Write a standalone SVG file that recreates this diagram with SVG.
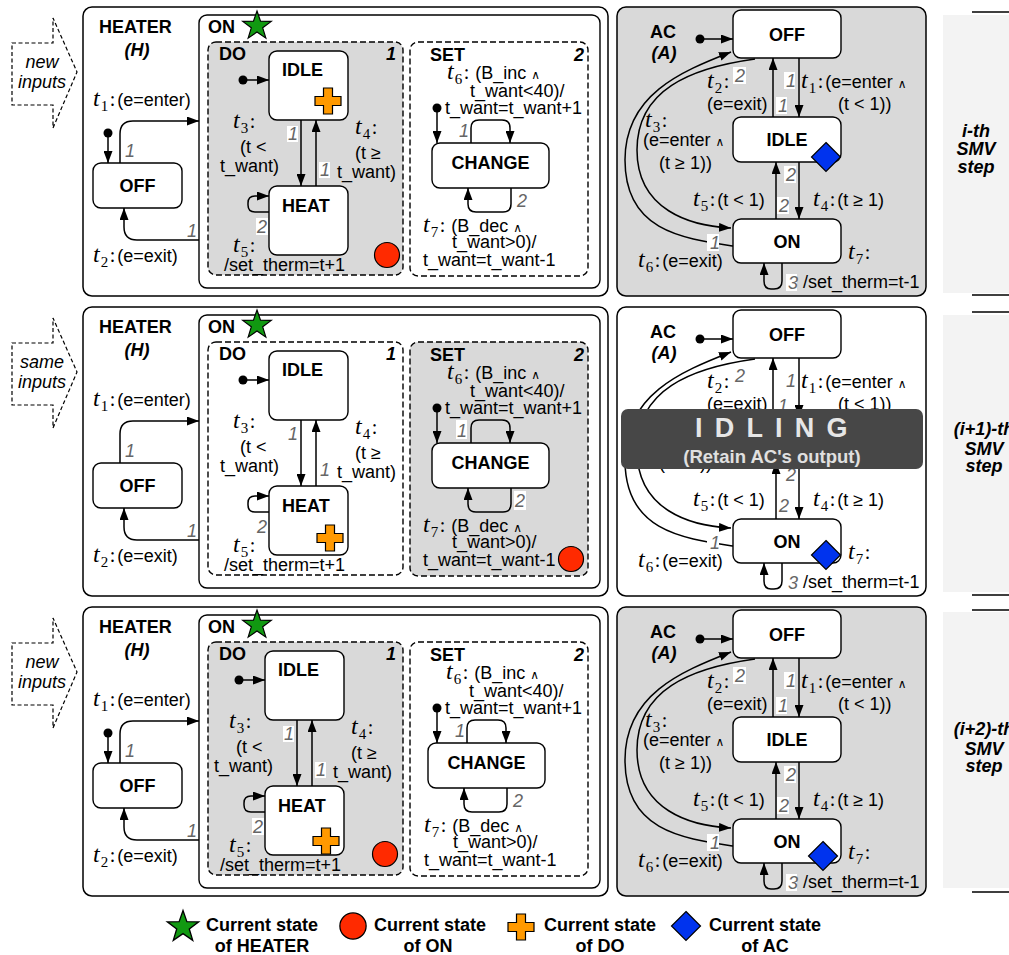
<svg xmlns="http://www.w3.org/2000/svg" width="1009" height="955" viewBox="0 0 1009 955">
<defs>
<style>
.panel{fill:#fff;stroke:#000;stroke-width:1.5}
.node{fill:#fff;stroke:#000;stroke-width:1.4}
.reg{stroke:#000;stroke-width:1.4;stroke-dasharray:6,3}
.gray{fill:#d9d9d9}
.white{fill:#fff}
.e{fill:none;stroke:#000;stroke-width:1.5;marker-end:url(#ah)}
.dot{fill:#000}
.pb{fill:#fff}
.nb{font-family:"Liberation Sans",Arial,sans-serif;font-weight:bold;font-size:18px}
.nbi{font-family:"Liberation Sans",Arial,sans-serif;font-weight:bold;font-style:italic;font-size:18px}
.s{font-family:"Liberation Sans",Arial,sans-serif;font-size:18px}
.m{font-family:"Liberation Serif","Times New Roman",serif;font-style:italic;font-size:24px}
.sb{font-family:"Liberation Serif","Times New Roman",serif;font-size:15px}
.c{font-family:"Liberation Serif","Times New Roman",serif;font-size:20px}
.w{font-family:"DejaVu Sans",sans-serif;font-size:12px}
.p{font-family:"Liberation Sans",Arial,sans-serif;font-style:italic;font-size:18px;fill:#666}
.it{font-family:"Liberation Sans",Arial,sans-serif;font-style:italic;font-size:18px;text-anchor:middle}
.rl{font-family:"Liberation Sans",Arial,sans-serif;font-weight:bold;font-style:italic;font-size:18px;text-anchor:middle}
.lg{font-family:"Liberation Sans",Arial,sans-serif;font-weight:bold;font-size:18px;text-anchor:middle}
.inar{fill:#fff;stroke:#000;stroke-width:1.2;stroke-dasharray:4,2.5}
.side{fill:#f3f3f3}
.rule{stroke:#000;stroke-width:1.5}
</style>
<marker id="ah" viewBox="0 0 12 9" refX="12" refY="4.5" markerWidth="12" markerHeight="9" markerUnits="userSpaceOnUse" orient="auto"><path d="M0,0 L12,4.5 L0,9 z" fill="#000"/></marker>
<polygon id="star" points="0,-15 3.53,-4.85 14.27,-4.64 5.71,1.85 8.82,12.14 0,6 -8.82,12.14 -5.71,1.85 -14.27,-4.64 -3.53,-4.85" fill="#119911" stroke="#000" stroke-width="1.2"/>
<polygon id="cross" points="-4.5,-13 4.5,-13 4.5,-4.5 13,-4.5 13,4.5 4.5,4.5 4.5,13 -4.5,13 -4.5,4.5 -13,4.5 -13,-4.5 -4.5,-4.5" fill="#ff9900" stroke="#000" stroke-width="1.2"/>
<circle id="redc" r="12.5" fill="#ff2a00" stroke="#000" stroke-width="1.2"/>
<polygon id="diam" points="0,-14.5 14.5,0 0,14.5 -14.5,0" fill="#0033ee" stroke="#000" stroke-width="1.2"/>
</defs>
<rect width="1009" height="955" fill="#fff"/>

<!-- ROW 1 -->
<g id="row1">
<g id="inputs-r1"><polygon class="inar" points="12,43 53,43 53,18 77,72 53,128 53,105 12,105"/><text class="it" x="42" y="68">new</text><text class="it" x="42" y="88">inputs</text></g>
<g id="heater-r1"><rect class="panel" x="83" y="7" width="525" height="289" rx="9"/><text class="nb" x="99" y="33">HEATER</text><text class="nbi" x="137" y="56" text-anchor="middle">(H)</text></g>
<g id="on-r1"><rect class="node" x="199" y="15" width="401" height="273" rx="8"/><text class="nb" x="208" y="33">ON</text></g>
<g id="do-r1"><rect class="reg gray" x="208" y="42" width="195" height="233" rx="8"/><text class="nb" x="219" y="60">DO</text><text class="nbi" x="396" y="60" text-anchor="end">1</text></g>
<g id="set-r1"><rect class="reg white" x="410" y="42" width="178" height="234" rx="8"/><text class="nb" x="430" y="61">SET</text><text class="nbi" x="584" y="61" text-anchor="end">2</text></g>
<g id="h-off-r1"><rect class="node" x="93" y="163" width="89" height="45" rx="8"/><text class="nb" x="137.5" y="192" text-anchor="middle">OFF</text></g>
<g id="do-idle-r1"><rect class="node" x="269" y="51" width="79" height="69" rx="8"/><text class="nb" x="282" y="76">IDLE</text></g>
<g id="do-heat-r1"><rect class="node" x="269" y="186" width="79" height="69" rx="8"/><text class="nb" x="282" y="212">HEAT</text></g>
<g id="set-change-r1"><rect class="node" x="432" y="143" width="117" height="45" rx="8"/><text class="nb" x="490.5" y="169" text-anchor="middle">CHANGE</text></g>
<g id="ac-r1"><rect class="panel gray" x="617" y="7" width="309" height="289" rx="9"/><text class="nb" x="663" y="38" text-anchor="middle">AC</text><text class="nbi" x="664" y="59" text-anchor="middle">(A)</text></g>
<g id="ac-off-r1"><rect class="node" x="733" y="10" width="108" height="48" rx="8"/><text class="nb" x="787" y="41" text-anchor="middle">OFF</text></g>
<g id="ac-idle-r1"><rect class="node" x="733" y="117" width="108" height="45" rx="8"/><text class="nb" x="787" y="146" text-anchor="middle">IDLE</text></g>
<g id="ac-on-r1"><rect class="node" x="733" y="219" width="108" height="44" rx="8"/><text class="nb" x="787" y="248" text-anchor="middle">ON</text></g>
<g id="connectors-r1">
<circle class="dot" cx="108" cy="133" r="4.5"/><path class="e" d="M108,133 V163"/>
<path class="e" d="M120,163 V134 Q120,121 133,121 H199"/>
<path class="e" d="M199,240 H137 Q124,240 124,227 V208"/>
<text class="p" x="125" y="157">1</text><text class="p" x="187" y="237">1</text>
<text class="s" x="93" y="106"><tspan class="m">t</tspan><tspan class="sb" dx="1" dy="5">1</tspan><tspan class="c" dx="1.5" dy="-5">:</tspan><tspan dx="2">(e=enter)</tspan></text>
<text class="s" x="93" y="262"><tspan class="m">t</tspan><tspan class="sb" dx="1" dy="5">2</tspan><tspan class="c" dx="1.5" dy="-5">:</tspan><tspan dx="2">(e=exit)</tspan></text>
<circle class="dot" cx="243" cy="80" r="4.5"/><path class="e" d="M243,80 H269"/>
<path class="e" d="M301,120 V186"/>
<path class="e" d="M316,186 V120"/>
<path class="e" d="M269,212 H255 Q248,212 248,205 V203 Q248,196 255,196 H269"/>
<rect class="pb" x="287" y="126" width="11" height="16"/><text class="p" x="288" y="140">1</text>
<rect class="pb" x="319" y="162" width="11" height="16"/><text class="p" x="320" y="176">1</text>
<rect class="pb" x="256" y="218" width="12" height="17"/><text class="p" x="257" y="233">2</text>
<text class="s" x="233" y="128"><tspan class="m">t</tspan><tspan class="sb" dx="1" dy="5">3</tspan><tspan class="c" dx="1.5" dy="-5">:</tspan></text>
<text class="s" x="240" y="153">(t &lt;</text><text class="s" x="220" y="172">t_want)</text>
<text class="s" x="355" y="134"><tspan class="m">t</tspan><tspan class="sb" dx="1" dy="5">4</tspan><tspan class="c" dx="1.5" dy="-5">:</tspan></text>
<text class="s" x="355" y="159">(t ≥</text><text class="s" x="337" y="178">t_want)</text>
<text class="s" x="233" y="252"><tspan class="m">t</tspan><tspan class="sb" dx="1" dy="5">5</tspan><tspan class="c" dx="1.5" dy="-5">:</tspan></text>
<text class="s" x="224" y="271">/set_therm=t+1</text>
<circle class="dot" cx="437" cy="108" r="4.5"/><path class="e" d="M437,108 V143"/>
<path class="e" d="M471,143 V128 Q471,120 479,120 H502 Q510,120 510,128 V143"/>
<path class="e" d="M511,188 V204 Q511,212 503,212 H476 Q468,212 468,204 V188"/>
<rect class="pb" x="458" y="122" width="11" height="17"/><text class="p" x="459" y="137">1</text>
<rect class="pb" x="516" y="192" width="12" height="17"/><text class="p" x="517" y="207">2</text>
<text class="s" x="447" y="79"><tspan class="m">t</tspan><tspan class="sb" dx="1" dy="5">6</tspan><tspan class="c" dx="1.5" dy="-5">:</tspan><tspan dx="6">(B_inc</tspan><tspan class="w" dx="5">∧</tspan></text>
<text class="s" x="470" y="97">t_want&lt;40)/</text><text class="s" x="445" y="114">t_want=t_want+1</text>
<text class="s" x="423" y="232"><tspan class="m">t</tspan><tspan class="sb" dx="1" dy="5">7</tspan><tspan class="c" dx="1.5" dy="-5">:</tspan><tspan dx="6">(B_dec</tspan><tspan class="w" dx="5">∧</tspan></text>
<text class="s" x="452" y="248">t_want&gt;0)/</text><text class="s" x="423" y="266">t_want=t_want-1</text>
<circle class="dot" cx="700" cy="39" r="4.5"/><path class="e" d="M700,39 H733"/>
<path class="e" d="M799,58 V117"/>
<path class="e" d="M773,117 V58"/>
<path class="e" d="M755,59 C690,68 637,90 637,150 C637,210 690,226 731,228"/>
<path class="e" d="M733,246 C680,238 625,230 625,160 C625,95 680,72 731,52"/>
<path class="e" d="M799,162 V219"/>
<path class="e" d="M776,219 V162"/>
<path class="e" d="M782,263 V281 Q782,289 774,289 H771 Q764,289 764,281 V263"/>
<rect class="pb" x="784" y="72" width="11" height="17"/><text class="p" x="786" y="87">1</text>
<rect class="pb" x="776" y="97" width="11" height="17"/><text class="p" x="778" y="112">1</text>
<rect class="pb" x="733" y="67" width="13" height="17"/><text class="p" x="735" y="82">2</text>
<rect class="pb" x="784" y="166" width="12" height="17"/><text class="p" x="786" y="181">2</text>
<rect class="pb" x="777" y="197" width="12" height="17"/><text class="p" x="779" y="212">2</text>
<rect class="pb" x="707" y="234" width="12" height="17"/><text class="p" x="710" y="249">1</text>
<rect class="pb" x="786" y="274" width="11" height="17"/><text class="p" x="788" y="289">3</text>
<text class="s" x="801" y="88"><tspan class="m">t</tspan><tspan class="sb" dx="1" dy="5">1</tspan><tspan class="c" dx="1.5" dy="-5">:</tspan><tspan dx="2">(e=enter</tspan><tspan class="w" dx="5">∧</tspan></text>
<text class="s" x="838" y="110">(t &lt; 1))</text>
<text class="s" x="707" y="88"><tspan class="m">t</tspan><tspan class="sb" dx="1" dy="5">2</tspan><tspan class="c" dx="1.5" dy="-5">:</tspan></text>
<text class="s" x="707" y="110">(e=exit)</text>
<text class="s" x="645" y="127"><tspan class="m">t</tspan><tspan class="sb" dx="1" dy="5">3</tspan><tspan class="c" dx="1.5" dy="-5">:</tspan></text>
<text class="s" x="643" y="146">(e=enter<tspan class="w" dx="5">∧</tspan></text>
<text class="s" x="659" y="169">(t ≥ 1))</text>
<text class="s" x="813" y="206"><tspan class="m">t</tspan><tspan class="sb" dx="1" dy="5">4</tspan><tspan class="c" dx="1.5" dy="-5">:</tspan><tspan dx="2">(t ≥ 1)</tspan></text>
<text class="s" x="693" y="206"><tspan class="m">t</tspan><tspan class="sb" dx="1" dy="5">5</tspan><tspan class="c" dx="1.5" dy="-5">:</tspan><tspan dx="2">(t &lt; 1)</tspan></text>
<text class="s" x="638" y="267"><tspan class="m">t</tspan><tspan class="sb" dx="1" dy="5">6</tspan><tspan class="c" dx="1.5" dy="-5">:</tspan><tspan dx="2">(e=exit)</tspan></text>
<text class="s" x="848" y="259"><tspan class="m">t</tspan><tspan class="sb" dx="1" dy="5">7</tspan><tspan class="c" dx="1.5" dy="-5">:</tspan></text>
<text class="s" x="803" y="288">/set_therm=t-1</text>
</g>
<g id="state-r1"><use href="#star" x="257" y="26"/><use href="#cross" x="328" y="101"/><use href="#redc" x="387" y="255"/><use href="#diam" x="826" y="157"/></g>
<g id="step-r1"><rect class="side" x="943" y="15" width="66" height="278"/><path class="rule" d="M972,12 H1009 M972,295 H1009"/><text class="rl" x="976" y="137">i-th</text><text class="rl" x="976" y="155">SMV</text><text class="rl" x="976" y="173">step</text></g>
</g>

<!-- ROW 2 -->
<g id="row2" transform="translate(0,300)">
<g id="inputs-r2"><polygon class="inar" points="12,43 53,43 53,18 77,72 53,128 53,105 12,105"/><text class="it" x="42" y="68">same</text><text class="it" x="42" y="88">inputs</text></g>
<g id="heater-r2"><rect class="panel" x="83" y="7" width="525" height="289" rx="9"/><text class="nb" x="99" y="33">HEATER</text><text class="nbi" x="137" y="56" text-anchor="middle">(H)</text></g>
<g id="on-r2"><rect class="node" x="199" y="15" width="401" height="273" rx="8"/><text class="nb" x="208" y="33">ON</text></g>
<g id="do-r2"><rect class="reg white" x="208" y="42" width="195" height="233" rx="8"/><text class="nb" x="219" y="60">DO</text><text class="nbi" x="396" y="60" text-anchor="end">1</text></g>
<g id="set-r2"><rect class="reg gray" x="410" y="42" width="178" height="234" rx="8"/><text class="nb" x="430" y="61">SET</text><text class="nbi" x="584" y="61" text-anchor="end">2</text></g>
<g id="h-off-r2"><rect class="node" x="93" y="163" width="89" height="45" rx="8"/><text class="nb" x="137.5" y="192" text-anchor="middle">OFF</text></g>
<g id="do-idle-r2"><rect class="node" x="269" y="51" width="79" height="69" rx="8"/><text class="nb" x="282" y="76">IDLE</text></g>
<g id="do-heat-r2"><rect class="node" x="269" y="186" width="79" height="69" rx="8"/><text class="nb" x="282" y="212">HEAT</text></g>
<g id="set-change-r2"><rect class="node" x="432" y="143" width="117" height="45" rx="8"/><text class="nb" x="490.5" y="169" text-anchor="middle">CHANGE</text></g>
<g id="ac-r2"><rect class="panel" x="617" y="7" width="309" height="289" rx="9"/><text class="nb" x="663" y="38" text-anchor="middle">AC</text><text class="nbi" x="664" y="59" text-anchor="middle">(A)</text></g>
<g id="ac-off-r2"><rect class="node" x="733" y="10" width="108" height="48" rx="8"/><text class="nb" x="787" y="41" text-anchor="middle">OFF</text></g>
<g id="ac-idle-r2"><rect class="node" x="733" y="117" width="108" height="45" rx="8"/><text class="nb" x="787" y="146" text-anchor="middle">IDLE</text></g>
<g id="ac-on-r2"><rect class="node" x="733" y="219" width="108" height="44" rx="8"/><text class="nb" x="787" y="248" text-anchor="middle">ON</text></g>
<g id="connectors-r2">
<path class="e" d="M120,163 V134 Q120,121 133,121 H199"/>
<path class="e" d="M199,240 H137 Q124,240 124,227 V208"/>
<text class="p" x="125" y="157">1</text><text class="p" x="187" y="237">1</text>
<text class="s" x="93" y="106"><tspan class="m">t</tspan><tspan class="sb" dx="1" dy="5">1</tspan><tspan class="c" dx="1.5" dy="-5">:</tspan><tspan dx="2">(e=enter)</tspan></text>
<text class="s" x="93" y="262"><tspan class="m">t</tspan><tspan class="sb" dx="1" dy="5">2</tspan><tspan class="c" dx="1.5" dy="-5">:</tspan><tspan dx="2">(e=exit)</tspan></text>
<circle class="dot" cx="243" cy="80" r="4.5"/><path class="e" d="M243,80 H269"/>
<path class="e" d="M301,120 V186"/>
<path class="e" d="M316,186 V120"/>
<path class="e" d="M269,212 H255 Q248,212 248,205 V203 Q248,196 255,196 H269"/>
<text class="p" x="288" y="140">1</text>
<text class="p" x="320" y="176">1</text>
<text class="p" x="257" y="233">2</text>
<text class="s" x="233" y="128"><tspan class="m">t</tspan><tspan class="sb" dx="1" dy="5">3</tspan><tspan class="c" dx="1.5" dy="-5">:</tspan></text>
<text class="s" x="240" y="153">(t &lt;</text><text class="s" x="220" y="172">t_want)</text>
<text class="s" x="355" y="134"><tspan class="m">t</tspan><tspan class="sb" dx="1" dy="5">4</tspan><tspan class="c" dx="1.5" dy="-5">:</tspan></text>
<text class="s" x="355" y="159">(t ≥</text><text class="s" x="337" y="178">t_want)</text>
<text class="s" x="233" y="252"><tspan class="m">t</tspan><tspan class="sb" dx="1" dy="5">5</tspan><tspan class="c" dx="1.5" dy="-5">:</tspan></text>
<text class="s" x="224" y="271">/set_therm=t+1</text>
<circle class="dot" cx="437" cy="108" r="4.5"/><path class="e" d="M437,108 V143"/>
<path class="e" d="M471,143 V128 Q471,120 479,120 H502 Q510,120 510,128 V143"/>
<path class="e" d="M511,188 V204 Q511,212 503,212 H476 Q468,212 468,204 V188"/>
<rect class="pb" x="456" y="120" width="11" height="19"/><text class="p" x="457" y="137">1</text>
<rect class="pb" x="514" y="191" width="12" height="19"/><text class="p" x="515" y="207">2</text>
<text class="s" x="447" y="79"><tspan class="m">t</tspan><tspan class="sb" dx="1" dy="5">6</tspan><tspan class="c" dx="1.5" dy="-5">:</tspan><tspan dx="6">(B_inc</tspan><tspan class="w" dx="5">∧</tspan></text>
<text class="s" x="470" y="97">t_want&lt;40)/</text><text class="s" x="445" y="114">t_want=t_want+1</text>
<text class="s" x="423" y="232"><tspan class="m">t</tspan><tspan class="sb" dx="1" dy="5">7</tspan><tspan class="c" dx="1.5" dy="-5">:</tspan><tspan dx="6">(B_dec</tspan><tspan class="w" dx="5">∧</tspan></text>
<text class="s" x="452" y="248">t_want&gt;0)/</text><text class="s" x="423" y="266">t_want=t_want-1</text>
<circle class="dot" cx="700" cy="39" r="4.5"/><path class="e" d="M700,39 H733"/>
<path class="e" d="M799,58 V117"/>
<path class="e" d="M773,117 V58"/>
<path class="e" d="M755,59 C690,68 637,90 637,150 C637,210 690,226 731,228"/>
<path class="e" d="M733,246 C680,238 625,230 625,160 C625,95 680,72 731,52"/>
<path class="e" d="M799,162 V219"/>
<path class="e" d="M776,219 V162"/>
<path class="e" d="M782,263 V281 Q782,289 774,289 H771 Q764,289 764,281 V263"/>
<rect class="pb" x="784" y="72" width="11" height="17"/><text class="p" x="786" y="87">1</text>
<rect class="pb" x="776" y="97" width="11" height="17"/><text class="p" x="778" y="112">1</text>
<rect class="pb" x="733" y="67" width="13" height="17"/><text class="p" x="735" y="82">2</text>
<rect class="pb" x="784" y="166" width="12" height="17"/><text class="p" x="786" y="181">2</text>
<rect class="pb" x="777" y="197" width="12" height="17"/><text class="p" x="779" y="212">2</text>
<rect class="pb" x="707" y="234" width="12" height="17"/><text class="p" x="710" y="249">1</text>
<rect class="pb" x="786" y="274" width="11" height="17"/><text class="p" x="788" y="289">3</text>
<text class="s" x="801" y="88"><tspan class="m">t</tspan><tspan class="sb" dx="1" dy="5">1</tspan><tspan class="c" dx="1.5" dy="-5">:</tspan><tspan dx="2">(e=enter</tspan><tspan class="w" dx="5">∧</tspan></text>
<text class="s" x="838" y="110">(t &lt; 1))</text>
<text class="s" x="707" y="88"><tspan class="m">t</tspan><tspan class="sb" dx="1" dy="5">2</tspan><tspan class="c" dx="1.5" dy="-5">:</tspan></text>
<text class="s" x="707" y="110">(e=exit)</text>
<text class="s" x="645" y="127"><tspan class="m">t</tspan><tspan class="sb" dx="1" dy="5">3</tspan><tspan class="c" dx="1.5" dy="-5">:</tspan></text>
<text class="s" x="643" y="146">(e=enter<tspan class="w" dx="5">∧</tspan></text>
<text class="s" x="659" y="169">(t ≥ 1))</text>
<text class="s" x="813" y="206"><tspan class="m">t</tspan><tspan class="sb" dx="1" dy="5">4</tspan><tspan class="c" dx="1.5" dy="-5">:</tspan><tspan dx="2">(t ≥ 1)</tspan></text>
<text class="s" x="693" y="206"><tspan class="m">t</tspan><tspan class="sb" dx="1" dy="5">5</tspan><tspan class="c" dx="1.5" dy="-5">:</tspan><tspan dx="2">(t &lt; 1)</tspan></text>
<text class="s" x="638" y="267"><tspan class="m">t</tspan><tspan class="sb" dx="1" dy="5">6</tspan><tspan class="c" dx="1.5" dy="-5">:</tspan><tspan dx="2">(e=exit)</tspan></text>
<text class="s" x="848" y="259"><tspan class="m">t</tspan><tspan class="sb" dx="1" dy="5">7</tspan><tspan class="c" dx="1.5" dy="-5">:</tspan></text>
<text class="s" x="803" y="288">/set_therm=t-1</text>
</g>
<g id="state-r2"><use href="#star" x="257" y="25"/><use href="#cross" x="330" y="238"/><use href="#redc" x="571" y="259"/><use href="#diam" x="826" y="255"/></g>
<g id="idling-r2"><rect x="621" y="109" width="302" height="60" rx="7" fill="#474747"/><text x="695" y="137" font-family="Liberation Sans, Arial, sans-serif" font-weight="bold" font-size="27" letter-spacing="2.4" fill="#e6e6e6">I D L I N G</text><text x="772" y="163" text-anchor="middle" font-family="Liberation Sans, Arial, sans-serif" font-weight="bold" font-size="18.5" fill="#e0e0e0">(Retain AC's output)</text></g>
<g id="step-r2"><rect class="side" x="943" y="15" width="66" height="277"/><path class="rule" d="M972,12 H1009 M972,295 H1009"/><text class="rl" x="984" y="135">(i+1)-th</text><text class="rl" x="984" y="155">SMV</text><text class="rl" x="984" y="172">step</text></g>
</g>

<!-- ROW 3 -->
<g id="row3" transform="translate(0,600)">
<g id="inputs-r3"><polygon class="inar" points="12,43 53,43 53,18 77,72 53,128 53,105 12,105"/><text class="it" x="42" y="68">new</text><text class="it" x="42" y="88">inputs</text></g>
<g id="heater-r3"><rect class="panel" x="83" y="7" width="525" height="289" rx="9"/><text class="nb" x="99" y="33">HEATER</text><text class="nbi" x="137" y="56" text-anchor="middle">(H)</text></g>
<g id="on-r3"><rect class="node" x="199" y="15" width="401" height="273" rx="8"/><text class="nb" x="208" y="33">ON</text></g>
<g id="do-r3"><rect class="reg gray" x="208" y="42" width="195" height="233" rx="8"/><text class="nb" x="219" y="60">DO</text><text class="nbi" x="396" y="60" text-anchor="end">1</text></g>
<g id="set-r3"><rect class="reg white" x="410" y="42" width="178" height="234" rx="8"/><text class="nb" x="430" y="61">SET</text><text class="nbi" x="584" y="61" text-anchor="end">2</text></g>
<g id="h-off-r3"><rect class="node" x="93" y="163" width="89" height="45" rx="8"/><text class="nb" x="137.5" y="192" text-anchor="middle">OFF</text></g>
<g id="do-idle-r3"><rect class="node" x="265" y="51" width="79" height="69" rx="8"/><text class="nb" x="278" y="76">IDLE</text></g>
<g id="do-heat-r3"><rect class="node" x="265" y="186" width="79" height="69" rx="8"/><text class="nb" x="278" y="212">HEAT</text></g>
<g id="set-change-r3"><rect class="node" x="428" y="143" width="117" height="45" rx="8"/><text class="nb" x="486.5" y="169" text-anchor="middle">CHANGE</text></g>
<g id="ac-r3"><rect class="panel gray" x="617" y="7" width="309" height="289" rx="9"/><text class="nb" x="663" y="38" text-anchor="middle">AC</text><text class="nbi" x="664" y="59" text-anchor="middle">(A)</text></g>
<g id="ac-off-r3"><rect class="node" x="733" y="10" width="108" height="48" rx="8"/><text class="nb" x="787" y="41" text-anchor="middle">OFF</text></g>
<g id="ac-idle-r3"><rect class="node" x="733" y="117" width="108" height="45" rx="8"/><text class="nb" x="787" y="146" text-anchor="middle">IDLE</text></g>
<g id="ac-on-r3"><rect class="node" x="733" y="219" width="108" height="44" rx="8"/><text class="nb" x="787" y="248" text-anchor="middle">ON</text></g>
<g id="connectors-r3">
<circle class="dot" cx="108" cy="133" r="4.5"/><path class="e" d="M108,133 V163"/>
<path class="e" d="M120,163 V134 Q120,121 133,121 H199"/>
<path class="e" d="M199,240 H137 Q124,240 124,227 V208"/>
<text class="p" x="125" y="157">1</text><text class="p" x="187" y="237">1</text>
<text class="s" x="93" y="106"><tspan class="m">t</tspan><tspan class="sb" dx="1" dy="5">1</tspan><tspan class="c" dx="1.5" dy="-5">:</tspan><tspan dx="2">(e=enter)</tspan></text>
<text class="s" x="93" y="262"><tspan class="m">t</tspan><tspan class="sb" dx="1" dy="5">2</tspan><tspan class="c" dx="1.5" dy="-5">:</tspan><tspan dx="2">(e=exit)</tspan></text>
<g transform="translate(-4,0)">
<circle class="dot" cx="243" cy="80" r="4.5"/><path class="e" d="M243,80 H269"/>
<path class="e" d="M301,120 V186"/>
<path class="e" d="M316,186 V120"/>
<path class="e" d="M269,212 H255 Q248,212 248,205 V203 Q248,196 255,196 H269"/>
<rect class="pb" x="287" y="126" width="11" height="16"/><text class="p" x="288" y="140">1</text>
<rect class="pb" x="319" y="162" width="11" height="16"/><text class="p" x="320" y="176">1</text>
<rect class="pb" x="256" y="218" width="12" height="17"/><text class="p" x="257" y="233">2</text>
<text class="s" x="233" y="128"><tspan class="m">t</tspan><tspan class="sb" dx="1" dy="5">3</tspan><tspan class="c" dx="1.5" dy="-5">:</tspan></text>
<text class="s" x="240" y="153">(t &lt;</text><text class="s" x="218" y="172">t_want)</text>
<text class="s" x="355" y="134"><tspan class="m">t</tspan><tspan class="sb" dx="1" dy="5">4</tspan><tspan class="c" dx="1.5" dy="-5">:</tspan></text>
<text class="s" x="355" y="159">(t ≥</text><text class="s" x="337" y="178">t_want)</text>
<text class="s" x="233" y="252"><tspan class="m">t</tspan><tspan class="sb" dx="1" dy="5">5</tspan><tspan class="c" dx="1.5" dy="-5">:</tspan></text>
<text class="s" x="224" y="271">/set_therm=t+1</text>
</g>
<circle class="dot" cx="437" cy="108" r="4.5"/><path class="e" d="M437,108 V143"/>
<g transform="translate(-4,0)">
<path class="e" d="M471,143 V128 Q471,120 479,120 H502 Q510,120 510,128 V143"/>
<path class="e" d="M511,188 V204 Q511,212 503,212 H476 Q468,212 468,204 V188"/>
<text class="p" x="459" y="137">1</text>
<text class="p" x="517" y="207">2</text>
</g>
<text class="s" x="446" y="79"><tspan class="m">t</tspan><tspan class="sb" dx="1" dy="5">6</tspan><tspan class="c" dx="1.5" dy="-5">:</tspan><tspan dx="6">(B_inc</tspan><tspan class="w" dx="5">∧</tspan></text>
<text class="s" x="469" y="97">t_want&lt;40)/</text><text class="s" x="445" y="114">t_want=t_want+1</text>
<text class="s" x="424" y="232"><tspan class="m">t</tspan><tspan class="sb" dx="1" dy="5">7</tspan><tspan class="c" dx="1.5" dy="-5">:</tspan><tspan dx="6">(B_dec</tspan><tspan class="w" dx="5">∧</tspan></text>
<text class="s" x="453" y="248">t_want&gt;0)/</text><text class="s" x="424" y="266">t_want=t_want-1</text>
<circle class="dot" cx="700" cy="39" r="4.5"/><path class="e" d="M700,39 H733"/>
<path class="e" d="M799,58 V117"/>
<path class="e" d="M773,117 V58"/>
<path class="e" d="M755,59 C690,68 637,90 637,150 C637,210 690,226 731,228"/>
<path class="e" d="M733,246 C680,238 625,230 625,160 C625,95 680,72 731,52"/>
<path class="e" d="M799,162 V219"/>
<path class="e" d="M776,219 V162"/>
<path class="e" d="M782,263 V281 Q782,289 774,289 H771 Q764,289 764,281 V263"/>
<rect class="pb" x="784" y="72" width="11" height="17"/><text class="p" x="786" y="87">1</text>
<rect class="pb" x="776" y="97" width="11" height="17"/><text class="p" x="778" y="112">1</text>
<rect class="pb" x="733" y="67" width="13" height="17"/><text class="p" x="735" y="82">2</text>
<rect class="pb" x="784" y="166" width="12" height="17"/><text class="p" x="786" y="181">2</text>
<rect class="pb" x="777" y="197" width="12" height="17"/><text class="p" x="779" y="212">2</text>
<rect class="pb" x="707" y="234" width="12" height="17"/><text class="p" x="710" y="249">1</text>
<rect class="pb" x="786" y="274" width="11" height="17"/><text class="p" x="788" y="289">3</text>
<text class="s" x="801" y="88"><tspan class="m">t</tspan><tspan class="sb" dx="1" dy="5">1</tspan><tspan class="c" dx="1.5" dy="-5">:</tspan><tspan dx="2">(e=enter</tspan><tspan class="w" dx="5">∧</tspan></text>
<text class="s" x="838" y="110">(t &lt; 1))</text>
<text class="s" x="707" y="88"><tspan class="m">t</tspan><tspan class="sb" dx="1" dy="5">2</tspan><tspan class="c" dx="1.5" dy="-5">:</tspan></text>
<text class="s" x="707" y="110">(e=exit)</text>
<text class="s" x="645" y="127"><tspan class="m">t</tspan><tspan class="sb" dx="1" dy="5">3</tspan><tspan class="c" dx="1.5" dy="-5">:</tspan></text>
<text class="s" x="643" y="146">(e=enter<tspan class="w" dx="5">∧</tspan></text>
<text class="s" x="659" y="169">(t ≥ 1))</text>
<text class="s" x="813" y="206"><tspan class="m">t</tspan><tspan class="sb" dx="1" dy="5">4</tspan><tspan class="c" dx="1.5" dy="-5">:</tspan><tspan dx="2">(t ≥ 1)</tspan></text>
<text class="s" x="693" y="206"><tspan class="m">t</tspan><tspan class="sb" dx="1" dy="5">5</tspan><tspan class="c" dx="1.5" dy="-5">:</tspan><tspan dx="2">(t &lt; 1)</tspan></text>
<text class="s" x="638" y="267"><tspan class="m">t</tspan><tspan class="sb" dx="1" dy="5">6</tspan><tspan class="c" dx="1.5" dy="-5">:</tspan><tspan dx="2">(e=exit)</tspan></text>
<text class="s" x="848" y="259"><tspan class="m">t</tspan><tspan class="sb" dx="1" dy="5">7</tspan><tspan class="c" dx="1.5" dy="-5">:</tspan></text>
<text class="s" x="803" y="288">/set_therm=t-1</text>
</g>
<g id="state-r3"><use href="#star" x="257" y="25"/><use href="#cross" x="326" y="241"/><use href="#redc" x="385" y="254"/><use href="#diam" x="823" y="256"/></g>
<g id="step-r3"><rect class="side" x="943" y="12" width="66" height="276"/><path class="rule" d="M972,10 H1009 M972,292 H1009"/><text class="rl" x="984" y="135">(i+2)-th</text><text class="rl" x="984" y="155">SMV</text><text class="rl" x="984" y="172">step</text></g>
</g>

<!-- LEGEND -->
<g id="legend">
<use href="#star" x="183" y="927" transform="translate(183,927) scale(1.1) translate(-183,-927)"/>
<text class="lg" x="262" y="931">Current state</text><text class="lg" x="262" y="952">of HEATER</text>
<use href="#redc" x="353" y="926" transform="translate(353,926) scale(1.05) translate(-353,-926)"/>
<text class="lg" x="430" y="931">Current state</text><text class="lg" x="428" y="952">of ON</text>
<use href="#cross" x="521" y="927"/>
<text class="lg" x="600" y="931">Current state</text><text class="lg" x="600" y="952">of DO</text>
<use href="#diam" x="686" y="926"/>
<text class="lg" x="765" y="931">Current state</text><text class="lg" x="765" y="952">of AC</text>
</g>
</svg>
